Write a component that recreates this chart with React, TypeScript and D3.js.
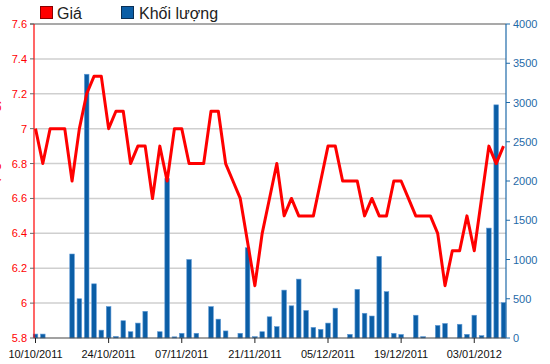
import React from "react";
import * as d3 from "d3";

// trading days shown on the x axis
const dates = [
  "10/10/2011", "11/10/2011", "12/10/2011", "13/10/2011", "14/10/2011",
  "17/10/2011", "18/10/2011", "19/10/2011", "20/10/2011", "21/10/2011",
  "24/10/2011", "25/10/2011", "26/10/2011", "27/10/2011", "28/10/2011",
  "31/10/2011", "01/11/2011", "02/11/2011", "03/11/2011", "04/11/2011",
  "07/11/2011", "08/11/2011", "09/11/2011", "10/11/2011", "11/11/2011",
  "14/11/2011", "15/11/2011", "16/11/2011", "17/11/2011", "18/11/2011",
  "21/11/2011", "22/11/2011", "23/11/2011", "24/11/2011", "25/11/2011",
  "28/11/2011", "29/11/2011", "30/11/2011", "01/12/2011", "02/12/2011",
  "05/12/2011", "06/12/2011", "07/12/2011", "08/12/2011", "09/12/2011",
  "12/12/2011", "13/12/2011", "14/12/2011", "15/12/2011", "16/12/2011",
  "19/12/2011", "20/12/2011", "21/12/2011", "22/12/2011", "23/12/2011",
  "26/12/2011", "27/12/2011", "28/12/2011", "29/12/2011", "30/12/2011",
  "03/01/2012", "04/01/2012", "05/01/2012", "06/01/2012", "09/01/2012",
];

// Giá
const prices = [
  7.0, 6.8, 7.0, 7.0, 7.0, 6.7, 7.0, 7.2, 7.3, 7.3,
  7.0, 7.1, 7.1, 6.8, 6.9, 6.9, 6.6, 6.9, 6.7, 7.0,
  7.0, 6.8, 6.8, 6.8, 7.1, 7.1, 6.8, 6.7, 6.6, 6.35,
  6.1, 6.4, 6.6, 6.8, 6.5, 6.6, 6.5, 6.5, 6.5, 6.7,
  6.9, 6.9, 6.7, 6.7, 6.7, 6.5, 6.6, 6.5, 6.5, 6.7,
  6.7, 6.6, 6.5, 6.5, 6.5, 6.4, 6.1, 6.3, 6.3, 6.5,
  6.3, 6.6, 6.9, 6.8, 6.9,
];

// Khối lượng
const volumes = [
  50, 50, 0, 0, 0, 1070, 500, 3360, 690, 100,
  400, 20, 220, 80, 190, 340, 0, 80, 2030, 15,
  60, 1000, 60, 0, 400, 240, 90, 0, 60, 1150,
  17, 80, 270, 145, 610, 410, 750, 350, 135, 110,
  190, 380, 0, 47, 620, 315, 280, 1040, 590, 60,
  45, 0, 290, 17, 0, 160, 185, 0, 175, 47,
  290, 30, 1400, 2970, 450,
];

const priceTicks = [5.8, 6, 6.2, 6.4, 6.6, 6.8, 7, 7.2, 7.4, 7.6];
const volumeTicks = [0, 500, 1000, 1500, 2000, 2500, 3000, 3500, 4000];
const dateTicks = ["10/10/2011", "24/10/2011", "07/11/2011", "21/11/2011", "05/12/2011", "19/12/2011", "03/01/2012"];

const W = 550;
const H = 364;
const left = 34;
const right = 506;
const top = 24;
const bottom = 338;

const RED = "#ff0000";
const BLUE = "#0b5ea6";
const AXIS_BLUE = "#1f6aa8";
const font = "'Liberation Sans', Arial, sans-serif";

export default function App() {
  const x = d3.scalePoint<string>().domain(dates).range([35.5, 503.5]);
  const yP = d3.scaleLinear().domain([5.8, 7.6]).range([bottom, top]);
  const yV = d3.scaleLinear().domain([0, 4000]).range([bottom, top]);
  const barW = 4.6;

  const line = d3
    .line<number>()
    .x((_, i) => x(dates[i]) as number)
    .y((d) => yP(d));

  return (
    <div style={{ position: "fixed", left: 0, top: 0, width: W, height: H, background: "#fff" }}>
      <svg width={W} height={H} style={{ display: "block", fontFamily: font }}>
        {/* grid */}
        {priceTicks.slice(1, -1).map((t) => (
          <line key={t} x1={left} x2={right} y1={yP(t)} y2={yP(t)} stroke="#cfcfcf" strokeWidth={1.5} />
        ))}
        <line x1={30} x2={right} y1={top} y2={top} stroke="#555" strokeWidth={1.2} />

        {/* volume bars */}
        {volumes.map((v, i) =>
          v > 0 ? (
            <rect
              key={i}
              x={(x(dates[i]) as number) - barW / 2}
              y={yV(v)}
              width={barW}
              height={bottom - yV(v)}
              fill={BLUE}
              stroke="#5f9ad6"
              strokeWidth={0.6}
            />
          ) : null
        )}

        {/* price line */}
        <path d={line(prices) || ""} fill="none" stroke={RED} strokeWidth={3} strokeLinejoin="round" />

        {/* bottom axis */}
        <line x1={left} x2={right} y1={bottom} y2={bottom} stroke="#444" strokeWidth={1.2} />
        {dateTicks.map((d) => (
          <g key={d} transform={`translate(${x(d)},0)`}>
            <line y1={bottom} y2={bottom + 5} stroke="#222" />
            <text y={358} textAnchor="middle" fontSize={11} fill="#111">
              {d}
            </text>
          </g>
        ))}

        {/* left axis */}
        <line x1={left} x2={left} y1={top} y2={bottom} stroke={RED} strokeWidth={1.2} />
        {priceTicks.map((t) => (
          <g key={t}>
            <line x1={left - 4} x2={left} y1={yP(t)} y2={yP(t)} stroke="#666" />
            <text x={27} y={yP(t) + 4} textAnchor="end" fontSize={11} fill={RED}>
              {t}
            </text>
          </g>
        ))}
        {/* axis title sits mostly outside the frame, as in the original */}
        <text
          transform={`translate(-2,155) rotate(-90)`}
          textAnchor="middle"
          fontSize={15}
          fill={RED}
        >
          Giá (nghìn đồng)
        </text>

        {/* right axis */}
        <line x1={right} x2={right} y1={top} y2={bottom} stroke={AXIS_BLUE} strokeWidth={1.2} />
        {volumeTicks.map((t) => (
          <g key={t}>
            <line x1={right} x2={right + 4} y1={yV(t)} y2={yV(t)} stroke={AXIS_BLUE} />
            <text x={513} y={yV(t) + 4} fontSize={11} fill={AXIS_BLUE}>
              {t}
            </text>
          </g>
        ))}

        {/* legend */}
        <rect x={40.5} y={6.5} width={12} height={12} fill={RED} stroke="#8a0000" strokeWidth={1} />
        <text x={57} y={19} fontSize={16} fill="#222">
          Giá
        </text>
        <rect x={121.5} y={6.5} width={12} height={12} fill={BLUE} stroke="#0a2f55" strokeWidth={1} />
        <text x={139} y={19} fontSize={16} fill="#222">
          Khối lượng
        </text>
      </svg>
    </div>
  );
}
